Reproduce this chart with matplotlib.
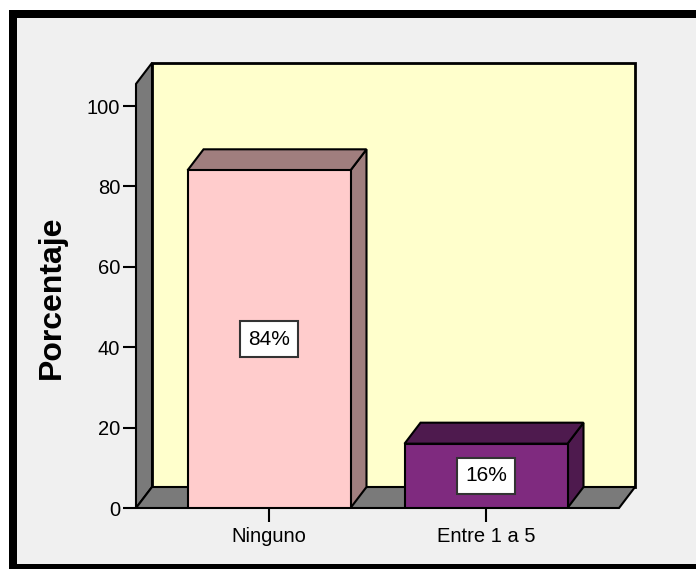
import matplotlib
matplotlib.use("Agg")
import matplotlib.pyplot as plt
from matplotlib.patches import Rectangle, Polygon

# ---- data ----
categories = ["Ninguno", "Entre 1 a 5"]
percentages = [84, 16]
value_labels = ["84%", "16%"]
yticks = [0, 20, 40, 60, 80, 100]
ylabel = "Porcentaje"

# ---- style ----
FONT = ["Liberation Sans", "DejaVu Sans"]
plt.rcParams["font.family"] = FONT
face_colors = ["#FFCCCC", "#7F2A7F"]
shade_colors = ["#A07E7E", "#4E1A4E"]
wall_color = "#FFFFCC"
side_color = "#7A7A7A"
bg_color = "#F0F0F0"

W, Hp = 696, 569
fig = plt.figure(figsize=(W / 100, Hp / 100), dpi=100)
fig.patch.set_facecolor("white")

# frame
fig.patches.append(Rectangle((9 / W, 0), 1.0, (Hp - 10) / Hp, transform=fig.transFigure,
                             facecolor="black", edgecolor="none", zorder=-10))
fig.patches.append(Rectangle((16.5 / W, 5 / Hp), 1.0, (Hp - 17.5 - 5) / Hp, transform=fig.transFigure,
                             facecolor=bg_color, edgecolor="none", zorder=-9))

# geometry (pixels per unit, 3-D depth)
sx, sy = 217.0, 4.02
xmin, xmax = -0.613, 1.613
dx, dy = 16 / sx, 21 / sy
top = 105.5
barw = 0.751

ax = fig.add_axes([136 / W, (Hp - 508) / Hp, (xmax + dx - xmin) * sx / W, (top + dy) * sy / Hp])
ax.set_xlim(xmin, xmax + dx)
ax.set_ylim(0, top + dy)
ax.patch.set_visible(False)
for s in ax.spines.values():
    s.set_visible(False)

lw = 1.5
# back wall
ax.add_patch(Rectangle((xmin + dx, dy), xmax - xmin, top, facecolor=wall_color,
                       edgecolor="black", lw=2, zorder=1, clip_on=False))
# side wall
ax.add_patch(Polygon([(xmin, 0), (xmin + dx, dy), (xmin + dx, top + dy), (xmin, top)],
                     closed=True, facecolor=side_color, edgecolor="black", lw=lw, zorder=2, clip_on=False))
# floor
ax.add_patch(Polygon([(xmin, 0), (xmax, 0), (xmax + dx, dy), (xmin + dx, dy)],
                     closed=True, facecolor=side_color, edgecolor="black", lw=lw, zorder=2, clip_on=False))

xs = list(range(len(categories)))
for i, (x, v) in enumerate(zip(xs, percentages)):
    l, r = x - barw / 2, x + barw / 2
    ax.add_patch(Polygon([(r, 0), (r + dx, dy), (r + dx, v + dy), (r, v)], closed=True,
                         facecolor=shade_colors[i], edgecolor="black", lw=lw, zorder=3, clip_on=False))
    ax.add_patch(Polygon([(l, v), (r, v), (r + dx, v + dy), (l + dx, v + dy)], closed=True,
                         facecolor=shade_colors[i], edgecolor="black", lw=lw, zorder=3, clip_on=False))
    ax.bar(x, v, width=barw, color=face_colors[i], edgecolor="black", lw=lw, zorder=4)
    ax.text(x, v / 2, value_labels[i], ha="center", va="center", fontsize=15, zorder=6,
            bbox=dict(boxstyle="square,pad=0.4", facecolor="white", edgecolor="#333333", lw=1.5))

ax.set_yticks(yticks)
ax.set_yticklabels([str(t) for t in yticks], fontsize=14.5)
ax.set_xticks(xs)
ax.set_xticklabels(categories, fontsize=14.5)
ax.tick_params(axis="y", length=9.5, width=1.5, pad=2, color="black")
ax.tick_params(axis="x", length=10, width=1.5, pad=4, color="black")

fig.text(52 / W, 1 - 297 / Hp, ylabel, rotation=90, ha="center", va="center",
         fontsize=23, fontweight="bold")

fig.savefig("out.png", dpi=100)
